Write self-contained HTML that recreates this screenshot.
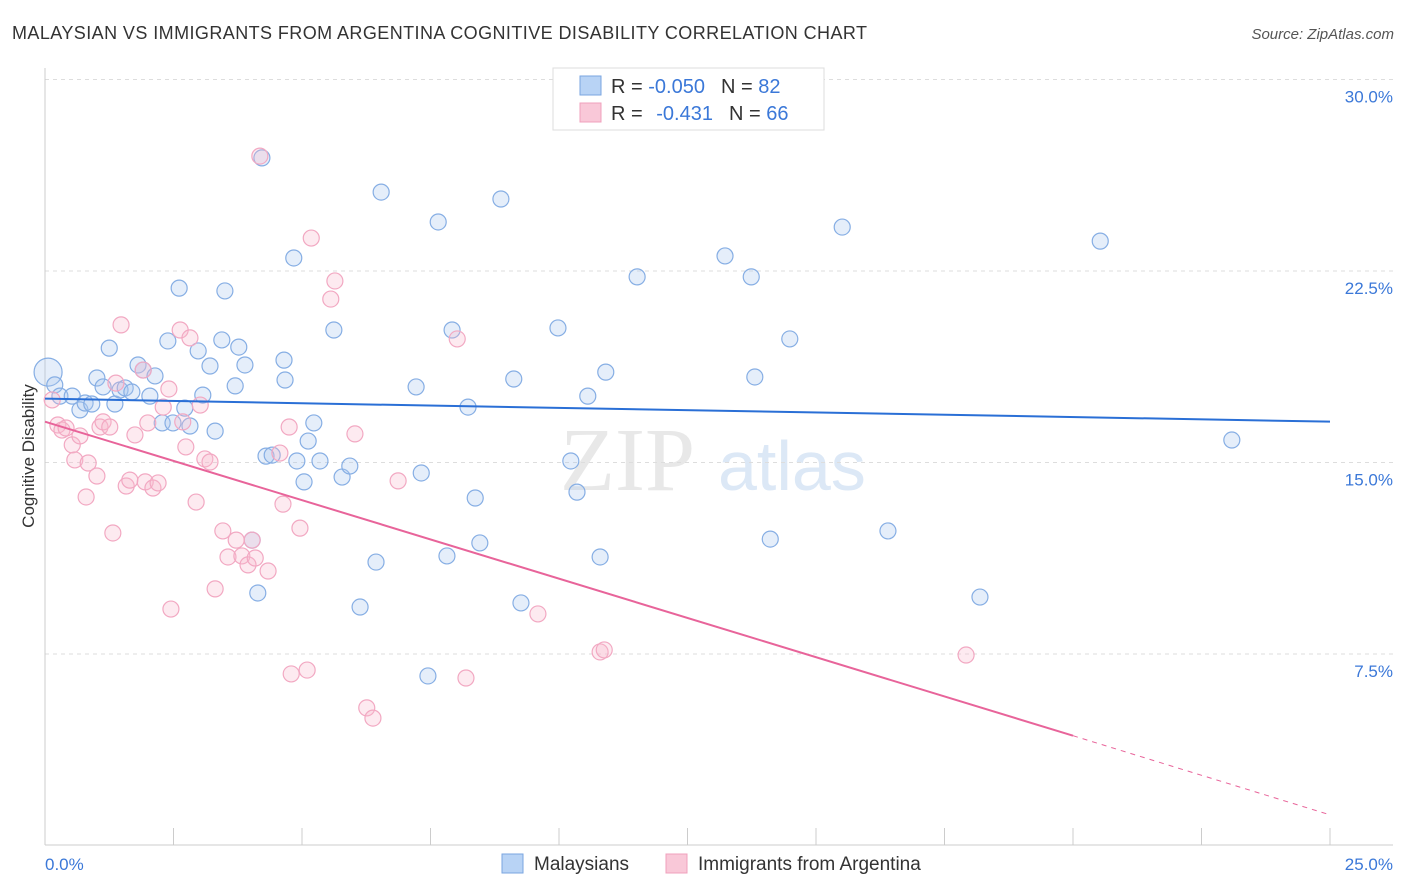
<!DOCTYPE html>
<html><head><meta charset="utf-8">
<style>
body{margin:0;background:#fff;font-family:"Liberation Sans",sans-serif;}
svg{display:block}
</style></head><body>
<svg id="chart" width="1406" height="892">
<text x="12" y="39" font-size="18" fill="#333" textLength="855">MALAYSIAN VS IMMIGRANTS FROM ARGENTINA COGNITIVE DISABILITY CORRELATION CHART</text>
<text x="1394" y="39" font-size="15" fill="#555" font-style="italic" text-anchor="end">Source: ZipAtlas.com</text>
<text x="560" y="490" font-size="90" fill="#e8e8e8" font-family="Liberation Serif">ZIP</text>
<text x="718" y="490" font-size="70" fill="#dce8f6">atlas</text>
<g id="grid"></g>
<g id="pts"></g>
<g id="trend"></g>
<text transform="translate(34,456) rotate(-90)" font-size="17" fill="#333" text-anchor="middle">Cognitive Disability</text>
<text x="45" y="870" font-size="17" fill="#3b78d8">0.0%</text>
<text x="1393" y="870" font-size="17" fill="#3b78d8" text-anchor="end">25.0%</text>
<g>
<rect x="553" y="68" width="271" height="62" fill="#fff" stroke="#ddd"/>
<rect x="580" y="76" width="21" height="19" fill="#b8d3f5" stroke="#7aa6e0"/>
<rect x="580" y="103" width="21" height="19" fill="#f9c8d8" stroke="#f0a0bc"/>
<text x="611" y="93" font-size="20" fill="#333">R = <tspan fill="#3b78d8">-0.050</tspan><tspan dx="16">N = </tspan><tspan fill="#3b78d8">82</tspan></text>
<text x="611" y="120" font-size="20" fill="#333">R = <tspan fill="#3b78d8" dx="8">-0.431</tspan><tspan dx="16">N = </tspan><tspan fill="#3b78d8">66</tspan></text>
</g>
<g>
<rect x="502" y="854" width="21" height="19" fill="#b8d3f5" stroke="#7aa6e0"/>
<text x="534" y="870" font-size="19" fill="#333">Malaysians</text>
<rect x="666" y="854" width="21" height="19" fill="#f9c8d8" stroke="#f0a0bc"/>
<text x="698" y="870" font-size="19" fill="#333">Immigrants from Argentina</text>
</g>
</svg>
<script>
const yTicks=[7.5,15,22.5,30];
const yTickLabels=["7.5%","15.0%","22.5%","30.0%"];
const xTicks=[0,2.5,5,7.5,10,12.5,15,17.5,20,22.5,25];
const bluePx=[[48,372],[55,385],[60,396],[72,396],[80,410],[85,403],[92,404],[97,378],[103,387],[109,348],[115,404],[120,390],[125,388],[132,392],[138,365],[143,370],[150,396],[155,376],[162,423],[168,341],[173,423],[179,288],[185,408],[190,426],[198,351],[203,395],[210,366],[215,431],[222,340],[225,291],[235,386],[239,347],[245,365],[252,540],[258,593],[262,158],[266,456],[272,455],[284,360],[285,380],[294,258],[297,461],[304,482],[308,441],[314,423],[320,461],[334,330],[342,477],[350,466],[360,607],[376,562],[381,192],[416,387],[421,473],[428,676],[438,222],[447,556],[452,330],[468,407],[475,498],[480,543],[501,199],[514,379],[521,603],[558,328],[571,461],[577,492],[588,396],[600,557],[606,372],[637,277],[725,256],[751,277],[755,377],[770,539],[790,339],[842,227],[888,531],[980,597],[1100,241],[1232,440]];
const pinkPx=[[52,400],[58,425],[62,430],[66,428],[72,445],[75,460],[80,436],[86,497],[88,463],[97,476],[100,427],[103,422],[110,427],[113,533],[116,383],[121,325],[126,486],[130,480],[135,435],[143,370],[145,482],[148,423],[153,488],[158,483],[163,407],[169,389],[171,609],[180,330],[183,422],[186,447],[190,338],[196,502],[200,405],[205,459],[210,462],[215,589],[223,531],[228,557],[236,540],[242,556],[248,565],[252,540],[255,558],[260,156],[268,571],[280,453],[283,504],[291,674],[300,528],[289,427],[307,670],[311,238],[331,299],[335,281],[355,434],[367,708],[373,718],[398,481],[457,339],[466,678],[538,614],[600,652],[604,650],[966,655]];
// data values (x %, y %)
const blueX=bluePx.map(p=>+((p[0]-45)/1285*25).toFixed(2));
const blueY=bluePx.map(p=>+((845.5-p[1])/191.5*7.5).toFixed(2));
const pinkX=pinkPx.map(p=>+((p[0]-45)/1285*25).toFixed(2));
const pinkY=pinkPx.map(p=>+((845.5-p[1])/191.5*7.5).toFixed(2));
const blueTrend=[[0,17.5],[25,16.6]];
const pinkTrend=[[0,16.6],[20,4.3],[25,1.2]];
const X=v=>45+v/25*1285, Y=v=>845.5-v/7.5*191.5;
const NS="http://www.w3.org/2000/svg";
function mk(t,a,p){const e=document.createElementNS(NS,t);for(const k in a)e.setAttribute(k,a[k]);p.appendChild(e);return e;}
const g=document.getElementById('grid');
yTicks.forEach((t,i)=>{
 const l=mk('line',{x1:45,x2:1393,y1:Y(t),y2:Y(t),stroke:'#ddd','stroke-dasharray':'4,4'},g);
 
 
 const tx=mk('text',{x:1393,y:Y(t)+23,'font-size':17,fill:'#3b78d8','text-anchor':'end'},g);
 tx.textContent=yTickLabels[i];
 
 
});
const ax=mk('line',{x1:45,x2:45,y1:68,y2:845,stroke:'#ccc'},g);


const bx=mk('line',{x1:45,x2:1393,y1:845,y2:845,stroke:'#ccc'},g);


xTicks.forEach(t=>{const l=mk('line',{x1:X(t),x2:X(t),y1:828,y2:845,stroke:'#ccc'},g);
 
 });
const pg=document.getElementById('pts');
function pts(xs,ys,fill,stroke,name){xs.forEach((x,i)=>{
 const c=mk('circle',{cx:X(x),cy:Y(ys[i]),r:(i==0&&name=='malaysian-point')?14:8,fill:fill,'fill-opacity':0.3,stroke:stroke,'stroke-width':1.2},pg);
 
 });}
pts(blueX,blueY,'#a9c8f0','#86aee4','malaysian-point');
pts(pinkX,pinkY,'#f7b8cc','#f2a8c2','argentina-point');
const tg=document.getElementById('trend');
const bl=mk('line',{x1:X(blueTrend[0][0]),y1:Y(blueTrend[0][1]),x2:X(blueTrend[1][0]),y2:Y(blueTrend[1][1]),stroke:'#2a6fd6','stroke-width':2},tg);


const pl=mk('line',{x1:X(pinkTrend[0][0]),y1:Y(pinkTrend[0][1]),x2:X(pinkTrend[1][0]),y2:Y(pinkTrend[1][1]),stroke:'#e8649a','stroke-width':2},tg);


const pd=mk('line',{x1:X(pinkTrend[1][0]),y1:Y(pinkTrend[1][1]),x2:X(pinkTrend[2][0]),y2:Y(pinkTrend[2][1]),stroke:'#e8649a','stroke-width':1,'stroke-dasharray':'5,5'},tg);


</script>
</body></html>
